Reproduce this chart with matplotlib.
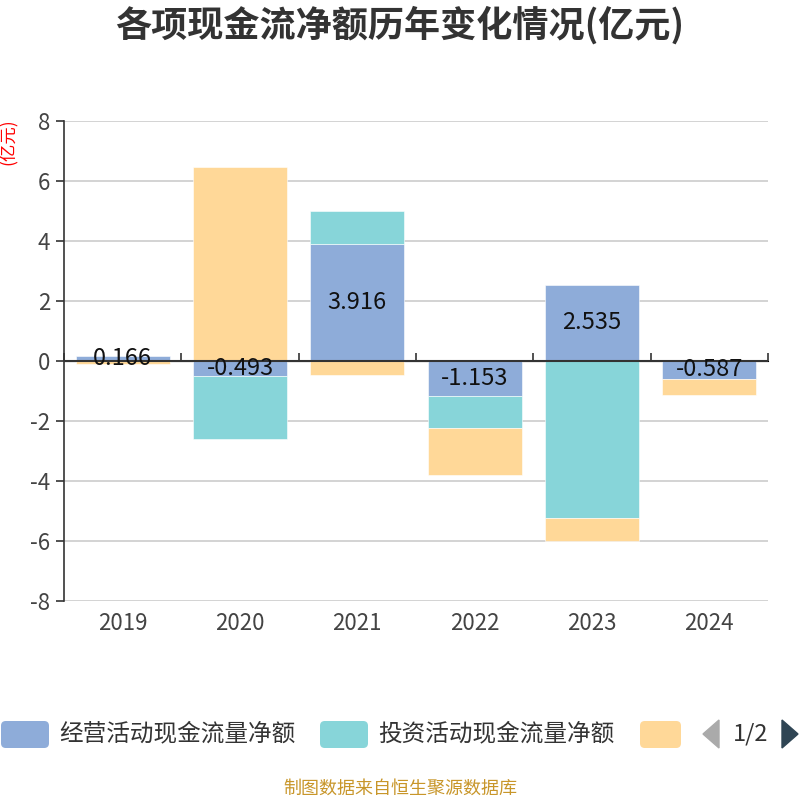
import matplotlib
matplotlib.use("Agg")
import matplotlib.pyplot as plt
from matplotlib.patches import FancyBboxPatch, Polygon
import numpy as np

plt.rcParams['font.family'] = ['Noto Sans CJK SC', 'DejaVu Sans']

years = ['2019', '2020', '2021', '2022', '2023', '2024']
operating = [0.166, -0.493, 3.916, -1.153, 2.535, -0.587]
investing = [-0.01, -2.12, 1.09, -1.07, -5.22, 0.0]
financing = [-0.09, 6.47, -0.48, -1.58, -0.77, -0.56]
series_names = ['经营活动现金流量净额', '投资活动现金流量净额', '筹资活动现金流量净额']
colors = ['#8eacd9', '#87d5d9', '#ffd898']
yticks = [-8, -6, -4, -2, 0, 2, 4, 6, 8]

fig = plt.figure(figsize=(8, 8), dpi=100)
ax = fig.add_axes([0.08, 0.24875, 0.88, 0.6])

x = np.arange(len(years))
pos_base = np.zeros(len(years))
neg_base = np.zeros(len(years))
for vals, c in zip([operating, investing, financing], colors):
    v = np.array(vals)
    bottoms = np.where(v >= 0, pos_base, neg_base)
    ax.bar(x, v, 0.8, bottom=bottoms, color=c, edgecolor='white', linewidth=0.4, zorder=3)
    pos_base = pos_base + np.where(v >= 0, v, 0)
    neg_base = neg_base + np.where(v < 0, v, 0)

for xi, v in zip(x, operating):
    ax.text(xi, v / 2, f'{v:g}', ha='center', va='center', fontsize=17,
            color='#111111', zorder=5)

ax.set_xlim(-0.5, len(years) - 0.5)
ax.set_ylim(-8, 8)
ax.set_yticks(yticks)
ax.set_yticklabels([str(t) for t in yticks])
ax.set_xticks(x)
ax.set_xticklabels(years)
ax.tick_params(axis='x', length=0, pad=8, labelsize=16, labelcolor='#444444')
ax.tick_params(axis='y', length=6, width=1.2, color='#333333', pad=4,
               labelsize=16, labelcolor='#444444')
ax.grid(axis='y', color='#cccccc', linewidth=1.2, zorder=0)
for s in ['top', 'right', 'bottom']:
    ax.spines[s].set_visible(False)
ax.spines['left'].set_color('#333333')
ax.spines['left'].set_linewidth(1.2)
ax.axhline(0, color='#333333', linewidth=1.5, zorder=4)

sec = ax.secondary_xaxis(0.5)
sec.set_xticks(np.arange(len(years) + 1) - 0.5)
sec.set_xticklabels([])
sec.tick_params(length=6, width=1.2, color='#333333', direction='out')
sec.spines['bottom'].set_visible(False)

fig.text(0.5, 0.968, '各项现金流净额历年变化情况(亿元)', ha='center', va='center',
         fontsize=26, fontweight='bold', color='#333333')
fig.text(0.0115, 1 - 142 / 800, '(亿元)', rotation=90, ha='center', va='center',
         fontsize=12.5, color='red')

# legend
def swatch(x0, w, color):
    fig.patches.append(FancyBboxPatch((x0 / 800, 1 - 748 / 800), w / 800, 27 / 800,
                                      boxstyle='round,pad=0,rounding_size=0.006',
                                      transform=fig.transFigure, color=color, ec='none'))

swatch(1, 48, colors[0])
fig.text(59 / 800, 1 - 734 / 800, series_names[0], ha='left', va='center',
         fontsize=17, color='#333333')
swatch(320, 48, colors[1])
fig.text(378 / 800, 1 - 734 / 800, series_names[1], ha='left', va='center',
         fontsize=17, color='#333333')
swatch(640, 41, colors[2])
fig.patches.append(Polygon([(703 / 800, 1 - 734 / 800), (719 / 800, 1 - 720 / 800),
                            (719 / 800, 1 - 748 / 800)], closed=True,
                           transform=fig.transFigure, color='#aaaaaa'))
fig.text(751 / 800, 1 - 734 / 800, '1/2', ha='center', va='center',
         fontsize=17, color='#333333')
fig.patches.append(Polygon([(782 / 800, 1 - 720 / 800), (798 / 800, 1 - 734 / 800),
                            (782 / 800, 1 - 748 / 800)], closed=True,
                           transform=fig.transFigure, color='#2f4554'))

fig.text(0.5, 1 - 789 / 800, '制图数据来自恒生聚源数据库', ha='center', va='center',
         fontsize=13, color='#c8962a')

fig.savefig('out.png', dpi=100)
